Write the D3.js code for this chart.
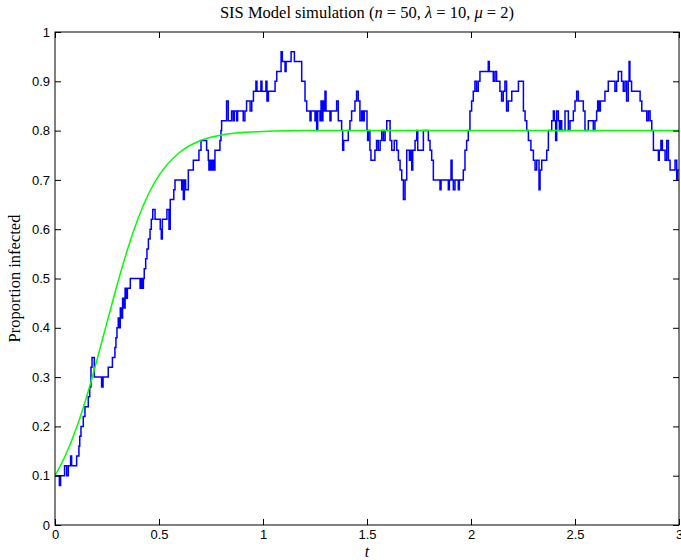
<!DOCTYPE html>
<html>
<head>
<meta charset="utf-8">
<script src="https://cdn.jsdelivr.net/npm/d3@7"></script>
<style>
body { margin: 0; background: #fff; }
svg { display: block; }
</style>
</head>
<body>
<svg id="chart" width="681" height="560"></svg>
<script>
// stochastic simulation, jump times and the proportion after each jump
let simTimes = [0, 0.021, 0.027, 0.046, 0.056, 0.064, 0.075, 0.080, 0.104, 0.115, 0.119, 0.125, 0.136, 0.144, 0.160, 0.167, 0.173, 0.178, 0.189,
	0.224, 0.231, 0.256, 0.276, 0.288, 0.293, 0.298, 0.304, 0.309, 0.314, 0.319, 0.325, 0.330, 0.337, 0.341, 0.348, 0.362,
	0.409, 0.413, 0.420, 0.425, 0.429, 0.436, 0.442, 0.449, 0.457, 0.463, 0.470, 0.481, 0.506, 0.511, 0.516, 0.538, 0.548, 0.554,
	0.571, 0.577, 0.609, 0.614, 0.617, 0.622, 0.628, 0.641, 0.665, 0.692, 0.702, 0.729, 0.737, 0.740, 0.745, 0.750, 0.756, 0.763,
	0.769, 0.793, 0.798, 0.801, 0.825, 0.833, 0.849, 0.857, 0.862, 0.873, 0.878, 0.905, 0.913, 0.921, 0.938, 0.946, 0.954, 0.966,
	0.971, 0.990, 0.995, 1.014, 1.019, 1.026, 1.058, 1.066, 1.087, 1.093, 1.106, 1.111, 1.135, 1.151, 1.186, 1.202, 1.210, 1.226,
	1.231, 1.250, 1.255, 1.258, 1.263, 1.274, 1.279, 1.284, 1.288, 1.295, 1.298, 1.303, 1.322, 1.327, 1.354, 1.362, 1.378, 1.383,
	1.388, 1.397, 1.410, 1.418, 1.426, 1.442, 1.450, 1.458, 1.466, 1.474, 1.481, 1.487, 1.500, 1.503, 1.506, 1.514, 1.519, 1.538,
	1.546, 1.554, 1.563, 1.571, 1.579, 1.587, 1.595, 1.611, 1.619, 1.631, 1.643, 1.651, 1.659, 1.667, 1.675, 1.683, 1.691, 1.704,
	1.708, 1.715, 1.720, 1.731, 1.739, 1.744, 1.771, 1.795, 1.803, 1.811, 1.819, 1.851, 1.856, 1.891, 1.896, 1.904, 1.909, 1.915,
	1.923, 1.939, 1.944, 1.963, 1.971, 1.979, 1.987, 1.995, 2.003, 2.011, 2.019, 2.027, 2.035, 2.043, 2.083, 2.088, 2.107, 2.115,
	2.123, 2.139, 2.147, 2.155, 2.163, 2.171, 2.179, 2.196, 2.228, 2.252, 2.260, 2.268, 2.276, 2.288, 2.300, 2.308, 2.316, 2.327,
	2.332, 2.340, 2.364, 2.372, 2.388, 2.396, 2.401, 2.407, 2.412, 2.420, 2.425, 2.429, 2.436, 2.452, 2.468, 2.476, 2.492, 2.500,
	2.508, 2.516, 2.540, 2.548, 2.564, 2.588, 2.596, 2.604, 2.609, 2.615, 2.622, 2.644, 2.660, 2.692, 2.700, 2.708, 2.724, 2.732,
	2.740, 2.748, 2.756, 2.760, 2.764, 2.772, 2.813, 2.821, 2.845, 2.853, 2.861, 2.869, 2.877, 2.901, 2.905, 2.913, 2.920, 2.933,
	2.941, 2.949, 2.957, 2.981, 2.989, 2.994, 3.0];
let simValues = [0.10, 0.08, 0.10, 0.12, 0.10, 0.12, 0.14, 0.12, 0.14, 0.16, 0.18, 0.20, 0.22, 0.24, 0.26, 0.28, 0.32, 0.34, 0.30,
	0.28, 0.30, 0.32, 0.34, 0.36, 0.38, 0.40, 0.42, 0.40, 0.44, 0.42, 0.46, 0.44, 0.48, 0.46, 0.48, 0.50,
	0.48, 0.50, 0.48, 0.50, 0.52, 0.54, 0.56, 0.58, 0.60, 0.62, 0.64, 0.62, 0.60, 0.58, 0.62, 0.64, 0.60, 0.66,
	0.68, 0.70, 0.68, 0.70, 0.66, 0.70, 0.68, 0.72, 0.74, 0.76, 0.78, 0.76, 0.74, 0.72, 0.74, 0.72, 0.74, 0.72,
	0.76, 0.78, 0.80, 0.82, 0.86, 0.82, 0.84, 0.82, 0.84, 0.82, 0.84, 0.82, 0.84, 0.86, 0.84, 0.86, 0.88, 0.90,
	0.88, 0.90, 0.88, 0.90, 0.86, 0.88, 0.90, 0.92, 0.96, 0.94, 0.92, 0.94, 0.96, 0.94, 0.90, 0.86, 0.84, 0.82,
	0.84, 0.82, 0.84, 0.80, 0.84, 0.82, 0.86, 0.82, 0.86, 0.84, 0.88, 0.84, 0.82, 0.84, 0.86, 0.82, 0.80, 0.76,
	0.78, 0.78, 0.80, 0.82, 0.84, 0.86, 0.88, 0.86, 0.82, 0.84, 0.82, 0.84, 0.80, 0.78, 0.80, 0.76, 0.74, 0.76,
	0.78, 0.76, 0.78, 0.80, 0.78, 0.80, 0.82, 0.78, 0.76, 0.78, 0.76, 0.74, 0.72, 0.70, 0.66, 0.70, 0.76, 0.74,
	0.76, 0.72, 0.76, 0.78, 0.80, 0.76, 0.80, 0.78, 0.76, 0.74, 0.70, 0.68, 0.70, 0.68, 0.70, 0.74, 0.70, 0.68,
	0.70, 0.68, 0.70, 0.72, 0.76, 0.78, 0.80, 0.84, 0.86, 0.88, 0.90, 0.88, 0.90, 0.92, 0.94, 0.92, 0.90, 0.92,
	0.90, 0.88, 0.86, 0.88, 0.90, 0.84, 0.86, 0.88, 0.90, 0.84, 0.82, 0.80, 0.78, 0.76, 0.74, 0.72, 0.74, 0.68,
	0.72, 0.74, 0.76, 0.80, 0.82, 0.84, 0.82, 0.78, 0.84, 0.82, 0.80, 0.82, 0.80, 0.84, 0.80, 0.82, 0.84, 0.86,
	0.88, 0.86, 0.84, 0.80, 0.82, 0.80, 0.82, 0.84, 0.86, 0.84, 0.86, 0.88, 0.90, 0.88, 0.90, 0.92, 0.90, 0.88,
	0.90, 0.86, 0.90, 0.94, 0.90, 0.88, 0.86, 0.84, 0.82, 0.84, 0.82, 0.80, 0.76, 0.74, 0.76, 0.78, 0.76, 0.74,
	0.78, 0.74, 0.72, 0.74, 0.70, 0.72, 0.72];

// deterministic (mean-field) curve
let odeTimes = [0, 0.05, 0.1, 0.15, 0.2, 0.25, 0.3, 0.35, 0.4, 0.45, 0.5, 0.6, 0.7, 0.8, 0.9, 1.0, 1.2, 3.0];
let odeValues = [0.10, 0.141, 0.193, 0.257, 0.332, 0.411, 0.489, 0.561, 0.622, 0.672, 0.709, 0.756, 0.780, 0.791, 0.796, 0.798, 0.80, 0.80];

let xTicks = [0, 0.5, 1, 1.5, 2, 2.5, 3];
let yTicks = [0, 0.1, 0.2, 0.3, 0.4, 0.5, 0.6, 0.7, 0.8, 0.9, 1];

let mLeft = 55, mRight = 679, mTop = 32, mBottom = 525;
let tickLen = 6;

let svg = d3.select('#chart');
let x = d3.scaleLinear().domain([0, 3]).range([mLeft, mRight]);
let y = d3.scaleLinear().domain([0, 1]).range([mBottom, mTop]);

// series
let sim = simTimes.map((t, i) => [t, simValues[i]]);
let ode = odeTimes.map((t, i) => [t, odeValues[i]]);

let clip = svg.append('clipPath').attr('id', 'plotclip');
clip.append('rect').attr('x', mLeft).attr('y', mTop).attr('width', mRight - mLeft).attr('height', mBottom - mTop);

svg.append('path')
	.attr('d', d3.line().x(d => x(d[0])).y(d => y(d[1])).curve(d3.curveStepAfter)(sim))
	.attr('clip-path', 'url(#plotclip)')
	.style('fill', 'none')
	.style('stroke', '#0000ff')
	.style('stroke-width', '1.5px');

svg.append('path')
	.attr('d', d3.line().x(d => x(d[0])).y(d => y(d[1])).curve(d3.curveMonotoneX)(ode))
	.attr('clip-path', 'url(#plotclip)')
	.style('fill', 'none')
	.style('stroke', '#00ff00')
	.style('stroke-width', '1.5px');

// axes box with inward ticks on all four sides
let fmt = d => d3.format('~g')(d);
svg.append('g').attr('transform', `translate(0,${mBottom})`)
	.call(d3.axisBottom(x).tickValues(xTicks).tickSizeInner(-tickLen).tickSizeOuter(0).tickPadding(5).tickFormat(fmt));
svg.append('g').attr('transform', `translate(0,${mTop})`)
	.call(d3.axisTop(x).tickValues(xTicks).tickSizeInner(-tickLen).tickSizeOuter(0).tickFormat(''));
svg.append('g').attr('transform', `translate(${mLeft},0)`)
	.call(d3.axisLeft(y).tickValues(yTicks).tickSizeInner(-tickLen).tickSizeOuter(0).tickPadding(5).tickFormat(fmt));
svg.append('g').attr('transform', `translate(${mRight},0)`)
	.call(d3.axisRight(y).tickValues(yTicks).tickSizeInner(-tickLen).tickSizeOuter(0).tickFormat(''));

svg.selectAll('.domain').remove();
svg.selectAll('.tick line').style('stroke', '#000').style('stroke-width', '1px');
svg.selectAll('.tick text')
	.style('font-family', 'Liberation Sans, Arial, sans-serif')
	.style('font-size', '13px')
	.style('fill', '#000');

svg.append('rect')
	.attr('x', mLeft).attr('y', mTop)
	.attr('width', mRight - mLeft).attr('height', mBottom - mTop)
	.style('fill', 'none').style('stroke', '#000').style('stroke-width', '1px');

// title
let title = svg.append('text')
	.attr('x', (mLeft + mRight) / 2).attr('y', 18)
	.attr('text-anchor', 'middle')
	.style('font-family', 'Liberation Serif, Times New Roman, serif')
	.style('font-size', '16.5px');
let parts = [['SIS Model simulation (', false], ['n', true], [' = 50, ', false], ['λ', true], [' = 10, ', false], ['μ', true], [' = 2)', false]];
for (let p of parts) {
	title.append('tspan').style('font-style', p[1] ? 'italic' : 'normal').text(p[0]);
}

// axis labels
svg.append('text')
	.attr('x', (mLeft + mRight) / 2).attr('y', 557)
	.attr('text-anchor', 'middle')
	.style('font-family', 'Liberation Serif, Times New Roman, serif')
	.style('font-style', 'italic')
	.style('font-size', '16px')
	.text('t');

svg.append('text')
	.attr('transform', `translate(20,${(mTop + mBottom) / 2}) rotate(-90)`)
	.attr('text-anchor', 'middle')
	.style('font-family', 'Liberation Serif, Times New Roman, serif')
	.style('font-size', '16.5px')
	.text('Proportion infected');
</script>
</body>
</html>
